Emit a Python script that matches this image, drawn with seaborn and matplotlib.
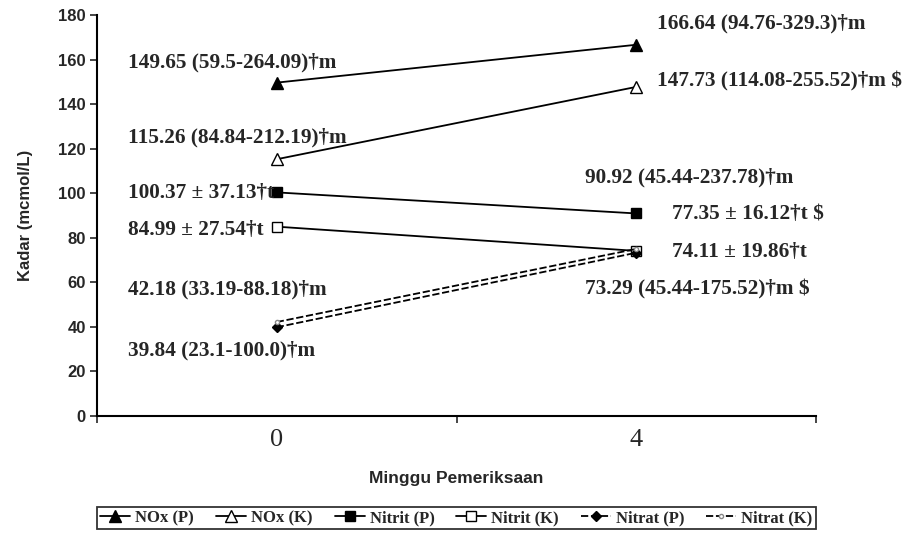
import matplotlib
matplotlib.use("Agg")
import matplotlib.pyplot as plt
import seaborn as sns
import pandas as pd

# ---- data ----
weeks = ["0", "4"]
series_names = ["NOx (P)", "NOx (K)", "Nitrit (P)", "Nitrit (K)", "Nitrat (P)", "Nitrat (K)"]
nox_p = [149.65, 166.64]
nox_k = [115.26, 147.73]
nitrit_p = [100.37, 90.92]
nitrit_k = [84.99, 74.11]
nitrat_p = [39.84, 73.29]
nitrat_k = [42.18, 75.0]
yticks = [0, 20, 40, 60, 80, 100, 120, 140, 160, 180]

labels_wk0 = ["149.65 (59.5-264.09)\u2020m", "115.26 (84.84-212.19)\u2020m",
              "100.37 \u00b1 37.13\u2020t", "84.99 \u00b1 27.54\u2020t",
              "42.18 (33.19-88.18)\u2020m", "39.84 (23.1-100.0)\u2020m"]
labels_wk4 = ["166.64 (94.76-329.3)\u2020m", "147.73 (114.08-255.52)\u2020m $",
              "90.92 (45.44-237.78)\u2020m", "77.35 \u00b1 16.12\u2020t $",
              "74.11 \u00b1 19.86\u2020t", "73.29 (45.44-175.52)\u2020m $"]

# ---- layout for labels (x in category units, y in data units) ----
pos_wk0 = [(-0.414, 158.9), (-0.414, 125.2), (-0.414, 100.1), (-0.414, 83.5),
           (-0.414, 56.6), (-0.414, 29.6)]
pos_wk4 = [(1.058, 176.4), (1.058, 150.0), (0.858, 107.0), (1.10, 90.5),
           (1.10, 73.6), (0.858, 56.6)]

all_vals = [nox_p, nox_k, nitrit_p, nitrit_k, nitrat_p, nitrat_k]
rows = []
for name, vals in zip(series_names, all_vals):
    for i, (w, v) in enumerate(zip(weeks, vals)):
        rows.append({"series": name, "pos": i, "week": w, "kadar": v})
df = pd.DataFrame(rows)

sns.set_theme(style="white")
plt.rcParams["font.family"] = ["Liberation Sans", "DejaVu Sans"]

fig = plt.figure(figsize=(9.10, 5.43), dpi=100)
ax = fig.add_axes([97/910, 1-416/543, (816-97)/910, (416-15)/543])

styles = {
    "NOx (P)":    dict(marker="^", ms=8, mfc="black", mec="black", ls="-"),
    "NOx (K)":    dict(marker="^", ms=8, mfc="white", mec="black", ls="-"),
    "Nitrit (P)": dict(marker="s", ms=7, mfc="black", mec="black", ls="-"),
    "Nitrit (K)": dict(marker="s", ms=7, mfc="white", mec="black", ls="-"),
    "Nitrat (P)": dict(marker="D", ms=5, mfc="black", mec="black", ls=(0, (4, 1.5))),
    "Nitrat (K)": dict(marker="o", ms=3, mfc="white", mec="#888888", ls=(0, (4, 1.5))),
}

for name in series_names:
    st = styles[name]
    sub = df[df["series"] == name]
    sns.lineplot(data=sub, x="pos", y="kadar", ax=ax, color="black", lw=1.3,
                 marker=st["marker"], markersize=st["ms"],
                 markerfacecolor=st["mfc"], markeredgecolor=st["mec"],
                 markeredgewidth=1.0, linestyle=st["ls"], label=name,
                 legend=False)

ax.set_xlim(-0.5, 1.5)
ax.set_ylim(0, 180)
ax.set_yticks(yticks)
ax.set_yticklabels([str(t) for t in yticks], fontsize=12, fontweight="bold")
ax.set_xticks([0, 1])
ax.set_xticklabels(weeks, fontsize=19, family="Liberation Serif")
ax.set_xticks([-0.5, 0.5, 1.5], minor=True)
ax.tick_params(axis="x", which="major", length=0, pad=9)
ax.tick_params(axis="x", which="minor", length=5, width=1.2, direction="out", bottom=True)
ax.tick_params(axis="y", which="major", length=5, width=1.2, direction="out", left=True, pad=3)

for s in ["top", "right"]:
    ax.spines[s].set_visible(False)
for s in ["left", "bottom"]:
    ax.spines[s].set_color("black")
    ax.spines[s].set_linewidth(1.5)

ax.set_xlabel("Minggu Pemeriksaan", fontsize=12.5, fontweight="bold", labelpad=15)
ax.set_ylabel("Kadar (mcmol/L)", fontsize=12, fontweight="bold", labelpad=18)

for txt, (x, y) in zip(labels_wk0 + labels_wk4, pos_wk0 + pos_wk4):
    ax.text(x, y, txt, ha="left", va="center", fontsize=15.3,
            family="Liberation Serif", fontweight="bold", clip_on=False)

handles, labs = ax.get_legend_handles_labels()
leg = ax.legend(handles, labs, loc="upper left", bbox_to_anchor=(0, -0.226, 1, 0),
                mode="expand", ncol=6, frameon=True, fancybox=False,
                edgecolor="black", handlelength=1.8, handletextpad=0.3,
                columnspacing=0.6, borderpad=0.2, borderaxespad=0,
                prop={"family": "Liberation Serif", "size": 12, "weight": "bold"})
leg.get_frame().set_linewidth(1.3)

fig.savefig("out.png", dpi=100, facecolor="white")
